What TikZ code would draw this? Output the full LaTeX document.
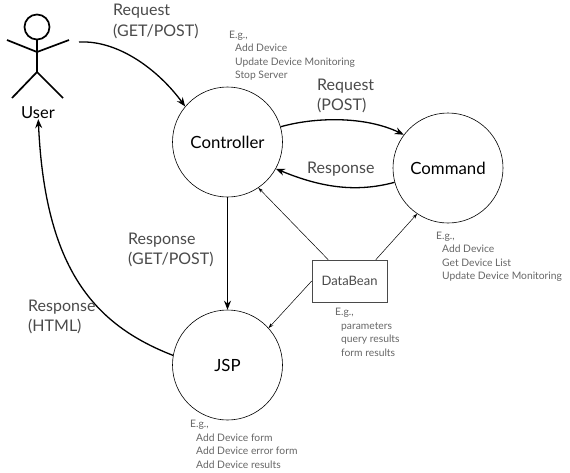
\documentclass[tikz,border=0pt]{standalone}
\usepackage{fontspec}
\setmainfont{Lato}
\usepackage{tikz}
\usetikzlibrary{positioning,arrows.meta,calc}
\definecolor{lightink}{HTML}{4A4A4A}
\definecolor{noteink}{HTML}{666666}
\newcommand{\stickman}[2]{% #1 x of the spine, #2 y of the head centre
  \draw[line width=1.7pt] (#1,#2) circle (12.5);
  \draw[line width=1.7pt] (#1,#2+12.5) -- (#1,#2+45);
  \draw[line width=1.7pt] (#1-30,#2+13) -- (#1,#2+25) -- (#1+32,#2+13);
  \draw[line width=1.7pt] (#1-25,#2+71) -- (#1,#2+45) -- (#1+26,#2+71);
}
\tikzset{
  actor/.style={circle,draw,line width=0.6pt,minimum size=110pt,inner sep=0pt,font=\fontsize{16.8}{20}\selectfont},
  beanbox/.style={draw=lightink,line width=0.6pt,minimum width=75pt,minimum height=42pt,inner sep=0pt,text=lightink,font=\fontsize{13}{16}\selectfont},
  flowlabel/.style={anchor=west,align=left,inner sep=0pt,text=lightink,font=\fontsize{16}{20.5}\selectfont},
  notelabel/.style={anchor=north west,align=left,inner sep=0pt,text=noteink,font=\fontsize{10.3}{13.6}\selectfont},
  flow/.style={-{Stealth[length=9pt,width=7pt]},line width=1.3pt},
  datalink/.style={-{Stealth[length=5pt,width=3.5pt]},line width=0.5pt},
}

\begin{document}
\begin{tikzpicture}[x=1pt,y=-1pt]
  \useasboundingbox (0,0) rectangle (570,472);
  \stickman{37}{27}
  \node[inner sep=0pt,font=\fontsize{16.5}{20}\selectfont] (user) at (38,113) {User};
  \coordinate (userhand) at (79,42);

  \node[actor] (controller) at (227.5,142) {Controller};
  \node[actor] (command) at (448,168) {Command};
  \node[actor] (jsp) at (227.5,365) {JSP};
  \node[beanbox] (bean) at (349.5,281) {DataBean};

  % request and response flows
  \draw[flow] (userhand) .. controls (120,40) and (160,72) .. (controller.140);
  \draw[flow] (controller.16) .. controls (315,117) and (365,116) .. (command.143);
  \draw[flow] (command.195) .. controls (355,193) and (320,187) .. (controller.-29);
  \draw[flow,line width=1.5pt] (controller) -- (jsp);
  \draw[flow] (jsp.170) .. controls (95,325) and (45,270) .. (user);

  % the bean feeds all three
  \draw[datalink] (bean.135) -- (controller.-56);
  \draw[datalink] (bean.39) -- (command.-124);
  \draw[datalink] (bean.west) -- (jsp.42);

  \node[flowlabel] (req1) at (113,21.5) {Request\\(GET/POST)};
  \node[flowlabel] (req2) at (317,96) {Request\\(POST)};
  \node[flowlabel] (resp1) at (307,169) {Response};
  \node[flowlabel] (resp2) at (128,250) {Response\\(GET/POST)};
  \node[flowlabel] (resp3) at (28,317) {Response\\(HTML)};

  \node[notelabel] (notectl) at (229,30.5) {E.g.,\\\hspace*{6pt}Add Device\\\hspace*{6pt}Update Device Monitoring\\\hspace*{6pt}Stop Server};
  \node[notelabel] (notecmd) at (436,231.5) {E.g.,\\\hspace*{6pt}Add Device\\\hspace*{6pt}Get Device List\\\hspace*{6pt}Update Device Monitoring};
  \node[notelabel] (notebean) at (335,308) {E.g.,\\\hspace*{6pt}parameters\\\hspace*{6pt}query results\\\hspace*{6pt}form results};
  \node[notelabel] (notejsp) at (190,420) {E.g.,\\\hspace*{6pt}Add Device form\\\hspace*{6pt}Add Device error form\\\hspace*{6pt}Add Device results};
\end{tikzpicture}
\end{document}
